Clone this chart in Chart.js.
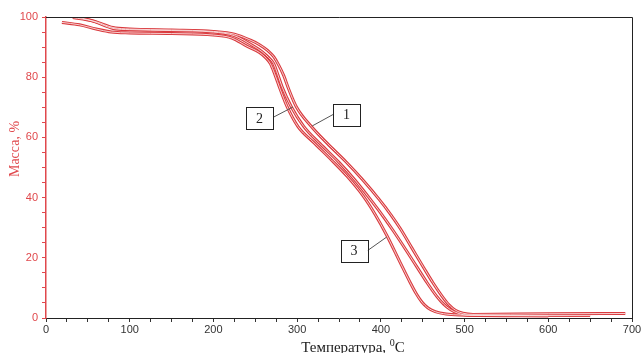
<!DOCTYPE html>
<html>
<head>
<meta charset="utf-8">
<script src="https://cdn.jsdelivr.net/npm/chart.js@4"></script>
<style>
  html, body { margin: 0; padding: 0; background: #fff; }
  #wrap { width: 643px; height: 353px; }
</style>
</head>
<body>
<div id="wrap"><canvas id="tgChart" width="643" height="353"></canvas></div>
<script>
// Curve 1
const temps1 = [40, 60, 80, 100, 150, 200, 225, 245, 255, 265, 272, 278, 284, 290, 299, 317, 336, 358, 378, 398, 412, 423, 437, 451, 462, 473, 481, 489, 498, 510, 600, 692];
const mass1 = [99.8, 98.4, 96.5, 96, 95.7, 95.2, 94.3, 92.2, 90.8, 88.8, 86.8, 84, 80.5, 76, 70.2, 63.6, 58, 52, 46, 39.4, 34.3, 29.8, 23.3, 16.8, 11.8, 7.3, 4.5, 2.6, 1.6, 1.2, 1.4, 1.5];
// Curve 2
const temps2 = [32, 55, 80, 100, 150, 200, 225, 247, 258, 266, 272, 277, 282, 293, 308, 327, 350, 370, 390, 404, 415, 430, 443, 455, 467, 475, 483, 492, 505, 650];
const mass2 = [99.8, 98.7, 96.2, 95.8, 95.5, 95, 93.8, 90.5, 88.5, 86.5, 84.5, 80.8, 76.8, 70.2, 63.6, 58, 51.7, 45.5, 38.5, 33.3, 28.9, 22.6, 17, 11.8, 7.1, 4.6, 2.8, 1.6, 0.9, 0.8];
// Curve 3
const temps3 = [19, 40, 60, 78, 100, 150, 200, 222, 240, 255, 263, 268, 273, 280, 288, 301, 319, 341, 360, 379, 393, 407, 423, 435, 442, 449, 456, 465, 478, 495, 600];
const mass3 = [98.2, 97.4, 96, 95, 94.7, 94.5, 94, 93, 90.3, 88.2, 86.3, 84.5, 81.2, 75.8, 70.2, 63.6, 58.5, 52.5, 47, 40.5, 34.5, 27.5, 18.5, 11.8, 8.2, 5.3, 3.4, 2.1, 1.3, 1, 0.7];

const xTicks = [0, 100, 200, 300, 400, 500, 600, 700];
const yTicks = [0, 20, 40, 60, 80, 100];

const RED = '#d93a3e';
const AXIS_RED = '#e0484c';

function toPoints(xs, ys) {
    return xs.map((x, i) => ({ x: x, y: ys[i] }));
}

// each curve is drawn as a red tube with a pale core
function curve(xs, ys) {
    return [
        { data: toPoints(xs, ys), borderColor: RED, borderWidth: 3, order: 1 },
        { data: toPoints(xs, ys), borderColor: '#fbe3e3', borderWidth: 0.9, order: 0 }
    ];
}

// numbered boxes with leader lines: [label, box centre x, y, line end x, y, side]
const callouts = [
    ['1', 359, 67.6, 318, 63.8, 'left'],
    ['2', 255, 66.3, 295, 70.1, 'right'],
    ['3', 368, 22.4, 407, 26.9, 'right']
];

const decorPlugin = {
    id: 'decor',
    afterDatasetsDraw(chart) {
        const { ctx, chartArea: a, scales: { x, y } } = chart;
        ctx.save();
        // frame top and right
        ctx.strokeStyle = '#222';
        ctx.lineWidth = 1;
        ctx.beginPath();
        ctx.moveTo(a.left, a.top + 0.5);
        ctx.lineTo(a.right + 0.5, a.top + 0.5);
        ctx.lineTo(a.right + 0.5, a.bottom);
        ctx.stroke();

        // callouts
        ctx.font = '14px "Liberation Serif", serif';
        ctx.textAlign = 'center';
        ctx.textBaseline = 'middle';
        callouts.forEach(([lab, bx, by, lx, ly, side]) => {
            const cx = x.getPixelForValue(bx);
            const cy = y.getPixelForValue(by);
            const w = 27, h = 22;
            const ex = x.getPixelForValue(lx);
            const ey = y.getPixelForValue(ly);
            ctx.strokeStyle = '#555';
            ctx.lineWidth = 1;
            ctx.beginPath();
            if (side === 'right') {
                ctx.moveTo(cx + w / 2, cy + (lab === '3' ? 0 : -1));
            } else {
                ctx.moveTo(cx - w / 2, cy);
            }
            ctx.lineTo(ex, ey);
            ctx.stroke();
            ctx.fillStyle = '#fff';
            ctx.fillRect(cx - w / 2, cy - h / 2, w, h);
            ctx.strokeStyle = '#222';
            ctx.strokeRect(Math.round(cx - w / 2) + 0.5, Math.round(cy - h / 2) + 0.5, w, h);
            ctx.fillStyle = '#222';
            ctx.fillText(lab, cx, cy + 1);
        });

        // axis titles
        ctx.fillStyle = AXIS_RED;
        ctx.font = '14px "Liberation Serif", serif';
        ctx.translate(15, 149);
        ctx.rotate(-Math.PI / 2);
        ctx.fillText('Масса, %', 0, 0);
        ctx.setTransform(1, 0, 0, 1, 0, 0);

        ctx.fillStyle = '#222';
        ctx.textAlign = 'left';
        ctx.textBaseline = 'alphabetic';
        ctx.font = '15px "Liberation Serif", serif';
        const t1 = 'Температура, ';
        const w1 = ctx.measureText(t1).width;
        ctx.font = '10px "Liberation Serif", serif';
        const w2 = ctx.measureText('0').width;
        ctx.font = '15px "Liberation Serif", serif';
        const w3 = ctx.measureText('С').width;
        const sx = 353 - (w1 + w2 + w3) / 2;
        ctx.fillText(t1, sx, 352);
        ctx.font = '10px "Liberation Serif", serif';
        ctx.fillText('0', sx + w1, 346);
        ctx.font = '15px "Liberation Serif", serif';
        ctx.fillText('С', sx + w1 + w2, 352);
        ctx.restore();
    }
};

new Chart(document.getElementById('tgChart').getContext('2d'), {
    type: 'line',
    data: {
        datasets: [...curve(temps1, mass1), ...curve(temps2, mass2), ...curve(temps3, mass3)]
    },
    options: {
        responsive: false,
        animation: false,
        layout: { padding: { top: 17, right: 11, left: 0, bottom: 0 } },
        elements: {
            point: { radius: 0 },
            line: { cubicInterpolationMode: 'monotone', fill: false }
        },
        plugins: {
            legend: { display: false },
            tooltip: { enabled: false }
        },
        scales: {
            x: {
                type: 'linear',
                min: 0,
                max: 700,
                afterFit(scale) { scale.height = 35; },
                afterBuildTicks(scale) {
                    const t = [];
                    for (let v = 0; v <= 700; v += 25) t.push({ value: v });
                    scale.ticks = t;
                },
                ticks: {
                    color: '#333',
                    font: { family: '"Liberation Sans", Arial, sans-serif', size: 11 },
                    padding: 1,
                    maxRotation: 0,
                    autoSkip: false,
                    callback: v => xTicks.includes(v) ? String(v) : ''
                },
                grid: { drawOnChartArea: false, drawTicks: true, tickLength: 4, tickColor: '#333' },
                border: { color: '#222', width: 1 }
            },
            y: {
                min: 0,
                max: 100,
                afterFit(scale) { scale.width = 46; },
                afterBuildTicks(scale) {
                    const t = [];
                    for (let v = 0; v <= 100; v += 5) t.push({ value: v });
                    scale.ticks = t;
                },
                ticks: {
                    color: AXIS_RED,
                    font: { family: '"Liberation Sans", Arial, sans-serif', size: 11 },
                    padding: 4,
                    autoSkip: false,
                    callback: v => yTicks.includes(v) ? String(v) : ''
                },
                grid: { drawOnChartArea: false, drawTicks: true, tickLength: 4, tickColor: AXIS_RED },
                border: { color: AXIS_RED, width: 1.5 }
            }
        }
    },
    plugins: [decorPlugin]
});
</script>
</body>
</html>
